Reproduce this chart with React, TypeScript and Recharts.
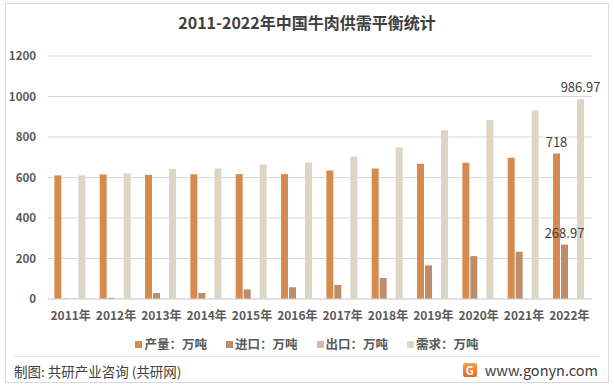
import React from 'react';
import { BarChart, Bar, XAxis, YAxis, CartesianGrid, LabelList } from 'recharts';

const years = ['2011年', '2012年', '2013年', '2014年', '2015年', '2016年', '2017年', '2018年', '2019年', '2020年', '2021年', '2022年'];
const production = [610.4, 614.7, 613.1, 615.7, 616.9, 616.9, 634.6, 644.1, 667.3, 672.5, 697.5, 718];
const imports = [2.0, 6.1, 29.4, 29.8, 47.4, 58.0, 69.5, 103.9, 165.9, 211.8, 233.3, 268.97];
const exports = [1.7, 1.0, 0.6, 0.6, 0.5, 0.4, 0.1, 0.05, 0.04, 0.02, 0.02, 0.02];
const demand = [610.7, 619.8, 641.9, 644.9, 663.8, 674.5, 704.0, 748.0, 833.2, 884.3, 930.8, 986.97];
const yTicks = [0, 200, 400, 600, 800, 1000, 1200];

const seriesNames = ['产量：万吨', '进口：万吨', '出口：万吨', '需求：万吨'];
const seriesColors = ['#D58B4D', '#BF8C69', '#D5B8AC', '#DED6C5'];

const data = years.map((y, i) => ({
  year: y,
  production: production[i],
  imports: imports[i],
  exports: exports[i],
  demand: demand[i],
}));

const FONT = '"Noto Sans CJK SC", "Noto Sans", sans-serif';

const lastLabel = (props: any) => {
  const { x, y, width, value, index } = props;
  if (index !== years.length - 1) return null;
  return (
    <text x={x + width / 2} y={y - 7} textAnchor="middle" fontSize={13} fill="#404040" fontFamily={FONT}>
      {value}
    </text>
  );
};

export default function App() {
  return (
    <div style={{ position: 'fixed', left: 0, top: 0, width: 614, height: 389, background: '#fff', fontFamily: FONT, overflow: 'hidden' }}>
      <div style={{ position: 'absolute', left: 5, top: 3, width: 604, height: 380, border: '1px solid #d9d9d9', boxSizing: 'border-box' }} />
      <div style={{ position: 'absolute', left: 0, top: 10, width: 614, textAlign: 'center', fontSize: 16, fontWeight: 'bold', color: '#404040', lineHeight: '24px' }}>
        2011-2022年中国牛肉供需平衡统计
      </div>
      <div style={{ position: 'absolute', left: 0, top: 0 }}>
        <BarChart
          width={614}
          height={389}
          data={data}
          margin={{ top: 56, right: 22, bottom: 60, left: 8 }}
          barCategoryGap="14%"
          barGap={1}
        >
          <CartesianGrid vertical={false} stroke="#d9d9d9" />
          <XAxis
            dataKey="year"
            axisLine={{ stroke: '#d9d9d9' }}
            tickLine={false}
            tickSize={0}
            tickMargin={12}
            height={30}
            tick={{ fontSize: 12, fill: '#595959', fontFamily: FONT, fontWeight: 'bold' }}
            interval={0}
          />
          <YAxis
            width={40}
            domain={[0, 1200]}
            ticks={yTicks}
            axisLine={false}
            tickLine={false}
            tickSize={0}
            tickMargin={12}
            tick={{ fontSize: 11.5, fill: '#595959', fontFamily: FONT, fontWeight: 'bold' }}
          />
          <Bar dataKey="production" name={seriesNames[0]} fill={seriesColors[0]} isAnimationActive={false}>
            <LabelList dataKey="production" content={lastLabel} />
          </Bar>
          <Bar dataKey="imports" name={seriesNames[1]} fill={seriesColors[1]} isAnimationActive={false}>
            <LabelList dataKey="imports" content={lastLabel} />
          </Bar>
          <Bar dataKey="exports" name={seriesNames[2]} fill={seriesColors[2]} isAnimationActive={false} />
          <Bar dataKey="demand" name={seriesNames[3]} fill={seriesColors[3]} isAnimationActive={false}>
            <LabelList dataKey="demand" content={lastLabel} />
          </Bar>
        </BarChart>
      </div>
      <div style={{ position: 'absolute', left: 0, top: 335, width: 614, display: 'flex', justifyContent: 'center', fontSize: 12.5, fontWeight: 'bold', color: '#595959', lineHeight: '18px' }}>
        {seriesNames.map((n, i) => (
          <div key={n} style={{ display: 'flex', alignItems: 'center', marginLeft: i === 0 ? 0 : 19 }}>
            <span style={{ display: 'inline-block', width: 7, height: 7, background: seriesColors[i], marginRight: 2 }} />
            <span>{n}</span>
          </div>
        ))}
      </div>
      <div style={{ position: 'absolute', left: 14, top: 356, width: 586, height: 1, background: '#e6e6e6' }} />
      <div style={{ position: 'absolute', left: 14, top: 362, fontSize: 13.5, color: '#404040', lineHeight: '18px' }}>
        制图: 共研产业咨询 (共研网)
      </div>
      <div style={{ position: 'absolute', right: 16, top: 361, display: 'flex', alignItems: 'center', fontSize: 14.5, color: '#404040', lineHeight: '18px' }}>
        <span style={{ display: 'inline-block', width: 14, height: 14, background: 'linear-gradient(#F4A24A, #E8632B)', borderRadius: 2, color: '#fff', fontSize: 11, fontWeight: 'bold', textAlign: 'center', lineHeight: '14px', marginRight: 8 }}>G</span>
        <span>www.gonyn.com</span>
      </div>
    </div>
  );
}
